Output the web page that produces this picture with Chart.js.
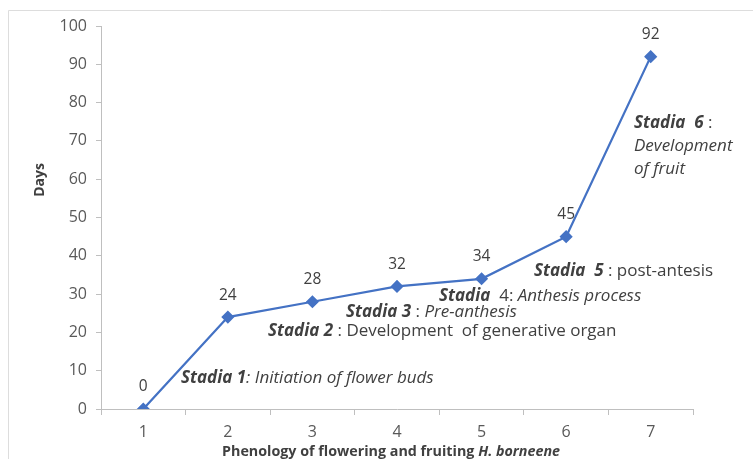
<!DOCTYPE html>
<html>
<head>
<meta charset="utf-8">
<script src="https://cdn.jsdelivr.net/npm/chart.js@4.4.1/dist/chart.umd.min.js"></script>
<style>
  html, body { margin: 0; padding: 0; background: #ffffff; }
  #wrap { width: 753px; height: 459px; }
</style>
</head>
<body>
<div id="wrap"><canvas id="c" width="753" height="459"></canvas></div>
<script>
// ---- data ----
const categories = ['1', '2', '3', '4', '5', '6', '7'];
const days = [0, 24, 28, 32, 34, 45, 92];
const yTicks = [0, 10, 20, 30, 40, 50, 60, 70, 80, 90, 100];
const yTitle = 'Days';
const xTitleParts = [
  { text: 'Phenology of flowering and fruiting ', style: 'bold' },
  { text: 'H. borneene', style: 'italic bold' }
];
// stage annotations: each is a list of styled runs per line
const stageNotes = [
  { lines: [[{ t: 'Stadia 1', s: 'italic bold' }, { t: ': Initiation of flower buds', s: 'italic' }]] },
  { lines: [[{ t: 'Stadia 2', s: 'italic bold' }, { t: ' : Development  of generative organ', s: '' }]] },
  { lines: [[{ t: 'Stadia 3', s: 'italic bold' }, { t: ' : ', s: '' }, { t: 'Pre-anthesis', s: 'italic' }]] },
  { lines: [[{ t: 'Stadia', s: 'italic bold' }, { t: '  4: ', s: '' }, { t: 'Anthesis process', s: 'italic' }]] },
  { lines: [[{ t: 'Stadia  5', s: 'italic bold' }, { t: ' : post-antesis', s: '' }]] },
  { lines: [
      [{ t: 'Stadia  6', s: 'italic bold' }, { t: ' :', s: '' }],
      [{ t: 'Development', s: 'italic' }],
      [{ t: 'of fruit', s: 'italic' }]
  ] }
];
// ---- layout (pixels) for annotations ----
const notePos = [
  { x: 181, y: 378 },
  { x: 268, y: 331 },
  { x: 346, y: 312 },
  { x: 439, y: 296 },
  { x: 534, y: 271 },
  { x: 634, y: 123, lh: 23 }
];

const FONT = '"Open Sans", sans-serif';
const TEXT = '#404040';
const AXIS = '#BFBFBF';

function drawRuns(ctx, runs, x, y, size) {
  let cx = x;
  for (const r of runs) {
    ctx.font = (r.s ? r.s + ' ' : '') + size + 'px ' + FONT;
    ctx.fillText(r.t, cx, y);
    cx += ctx.measureText(r.t).width;
  }
}

const framePlugin = {
  id: 'frame',
  beforeDraw(chart) {
    const ctx = chart.ctx;
    ctx.save();
    ctx.fillStyle = '#ffffff';
    ctx.fillRect(0, 0, chart.width, chart.height);
    ctx.strokeStyle = '#DDDDDD';
    ctx.lineWidth = 1;
    ctx.beginPath();
    ctx.moveTo(8.5, chart.height);
    ctx.lineTo(8.5, 10.5);
    ctx.lineTo(chart.width, 10.5);
    ctx.stroke();
    ctx.restore();
  }
};

const labelPlugin = {
  id: 'labels',
  afterDatasetsDraw(chart) {
    const ctx = chart.ctx;
    const meta = chart.getDatasetMeta(0);
    ctx.save();
    ctx.fillStyle = TEXT;
    ctx.textAlign = 'center';
    ctx.textBaseline = 'middle';
    ctx.font = '15.5px ' + FONT;
    meta.data.forEach((pt, i) => {
      ctx.fillText(String(days[i]), pt.x, pt.y - 22);
    });
    // stage notes
    ctx.textAlign = 'left';
    stageNotes.forEach((n, i) => {
      const p = notePos[i];
      n.lines.forEach((ln, j) => {
        drawRuns(ctx, ln, p.x, p.y + j * (p.lh || 0), 17);
      });
    });
    // axis titles
    ctx.font = 'bold 14px ' + FONT;
    ctx.save();
    ctx.translate(40, 180);
    ctx.rotate(-Math.PI / 2);
    ctx.textAlign = 'center';
    ctx.fillText(yTitle, 0, 0);
    ctx.restore();
    // x title (mixed styles) centred
    let total = 0;
    xTitleParts.forEach(p => { ctx.font = p.style + ' 14.3px ' + FONT; total += ctx.measureText(p.text).width; });
    let sx = 391 - total / 2;
    ctx.textAlign = 'left';
    xTitleParts.forEach(p => {
      ctx.font = p.style + ' 14.3px ' + FONT;
      ctx.fillText(p.text, sx, 452);
      sx += ctx.measureText(p.text).width;
    });
    ctx.restore();
  }
};

new Chart(document.getElementById('c'), {
  type: 'line',
  data: {
    labels: categories,
    datasets: [{
      data: days,
      borderColor: '#4472C4',
      backgroundColor: '#4472C4',
      borderWidth: 2.25,
      pointStyle: 'rectRot',
      pointRadius: 5,
      pointHoverRadius: 5,
      tension: 0
    }]
  },
  options: {
    responsive: false,
    animation: false,
    events: [],
    layout: { padding: { left: 0, top: 26, right: 60, bottom: 0 } },
    plugins: { legend: { display: false }, tooltip: { enabled: false } },
    scales: {
      x: {
        offset: true,
        grid: { offset: true, display: true, drawOnChartArea: false, color: AXIS, tickLength: 6, tickColor: AXIS },
        border: { color: AXIS, width: 1 },
        ticks: { color: '#595959', font: { family: FONT, size: 16 }, padding: 8, maxRotation: 0 },
        afterFit(s) { s.height = 50; }
      },
      y: {
        min: 0, max: 100,
        afterBuildTicks(s) { s.ticks = yTicks.map(v => ({ value: v })); },
        grid: { display: true, drawOnChartArea: false, color: AXIS, tickLength: 5, tickColor: AXIS },
        border: { color: AXIS, width: 1 },
        ticks: { color: '#595959', font: { family: FONT, size: 16 }, padding: 9 },
        afterFit(s) { s.width = 101; }
      }
    }
  },
  plugins: [framePlugin, labelPlugin]
});
</script>
</body>
</html>
